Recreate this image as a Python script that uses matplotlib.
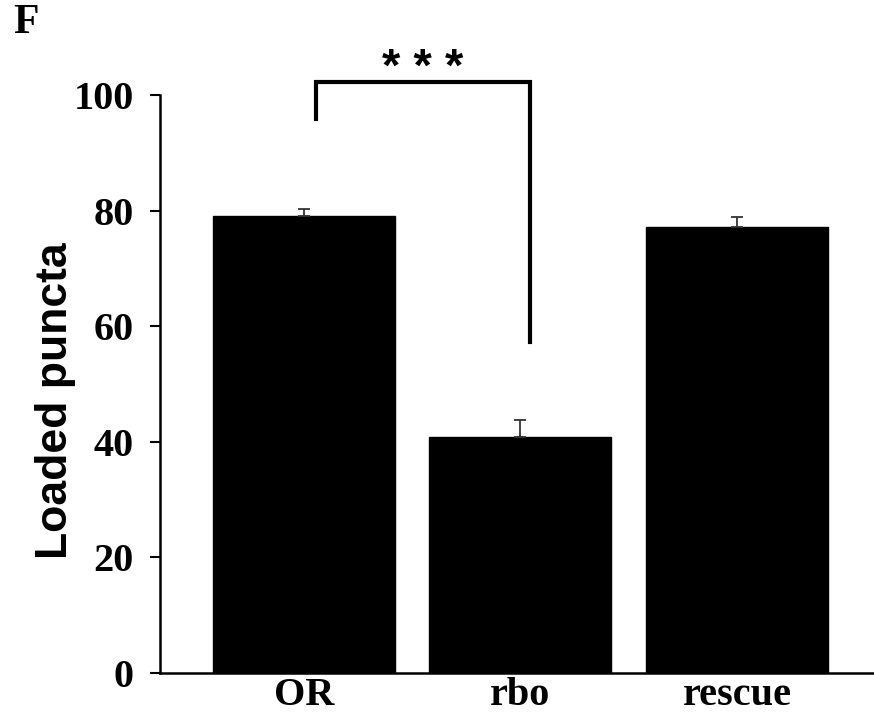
import matplotlib
matplotlib.use("Agg")
import matplotlib.pyplot as plt

# data
groups = ["OR", "rbo", "rescue"]
means = [79.0, 40.8, 77.1]
sem = [1.3, 2.9, 1.8]
y_ticks = [0, 20, 40, 60, 80, 100]

# significance bracket (OR vs rbo)
bracket_x = [0.055, 0.055, 1.046, 1.046]
bracket_y = [95.8, 102.2, 102.2, 57.3]
stars = "* * *"

serif = "Liberation Serif"
sans = "Liberation Sans"

fig = plt.figure(figsize=(8.74, 7.17), dpi=100)
ax = fig.add_axes([0.183, 0.0614, 0.817, 0.806])

x = range(len(groups))
ax.bar(x, means, width=0.84, color="black", edgecolor="black", zorder=2)
ax.errorbar(x, means, yerr=[[0] * len(sem), sem], fmt="none", ecolor="#333333",
            elinewidth=1.3, capsize=4, capthick=1.3, zorder=3)

ax.set_xlim(-0.665, 2.633)
ax.set_ylim(0, 100)
ax.set_yticks(y_ticks)
ax.set_yticklabels([str(v) for v in y_ticks], fontfamily=serif,
                   fontweight="bold", fontsize=29)
ax.set_xticks(list(x))
ax.set_xticklabels(groups, fontfamily=serif, fontweight="bold", fontsize=29)
ax.tick_params(axis="y", length=7, width=1.5, pad=12, direction="out")
ax.tick_params(axis="x", length=0, pad=3)

for side in ["top", "right"]:
    ax.spines[side].set_visible(False)
ax.spines["left"].set_linewidth(1.8)
ax.spines["bottom"].set_linewidth(1.8)

ax.set_ylabel("Loaded puncta", fontfamily=sans, fontweight="bold", fontsize=32)
ax.yaxis.set_label_coords(-0.118, 0.472)

ax.plot(bracket_x, bracket_y, color="black", linewidth=3, clip_on=False,
        solid_joinstyle="miter")
ax.text(0.55, 104.5, stars, ha="center", va="center", fontfamily=sans,
        fontweight="bold", fontsize=34)

fig.text(0.015, 0.995, "F", ha="left", va="top", fontfamily=serif,
         fontweight="bold", fontsize=30)

fig.savefig("out.png", dpi=100, facecolor="white")
